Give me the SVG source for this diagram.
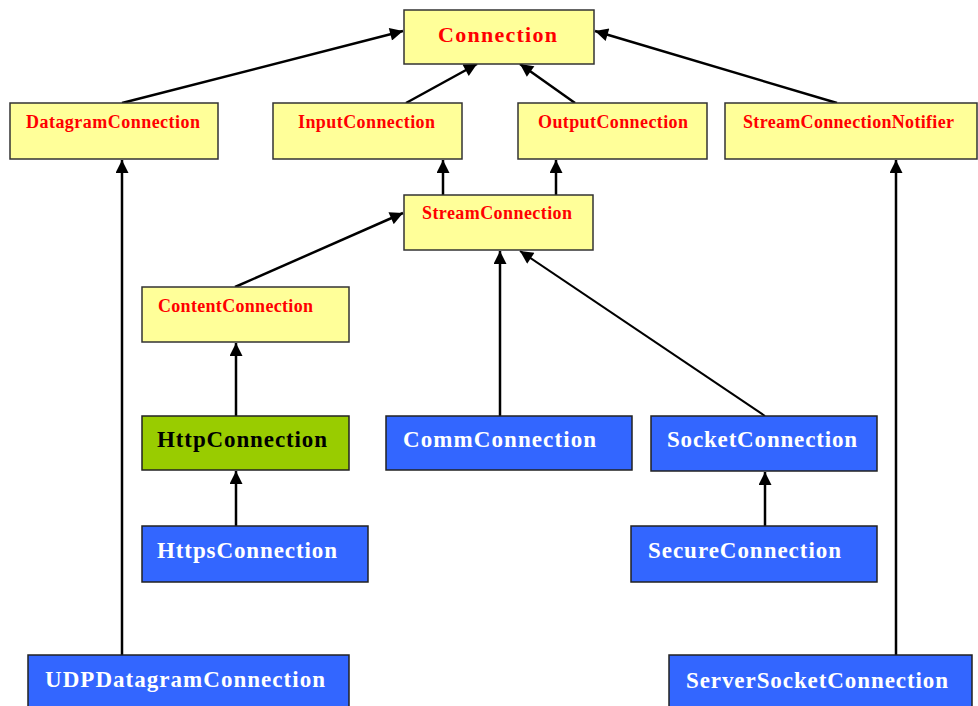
<svg xmlns="http://www.w3.org/2000/svg" width="978" height="706" viewBox="0 0 978 706">
<defs>
<marker id="ah" viewBox="0 0 10 10" refX="10" refY="5" markerWidth="14" markerHeight="13" markerUnits="userSpaceOnUse" orient="auto">
<path d="M0,0 L10,5 L0,10 z" fill="#000"/>
</marker>
</defs>
<style>
.y{fill:#FFFF99;stroke:#333;stroke-width:1.5}
.b{fill:#3366FF;stroke:#222;stroke-width:1.5}
.g{fill:#99CC00;stroke:#222;stroke-width:1.5}
.rt{font-family:"Liberation Serif",serif;font-weight:bold;font-size:18px;fill:#FF0000}
.wt{font-family:"Liberation Serif",serif;font-weight:bold;font-size:23px;fill:#FFFFFF}
.kt{font-family:"Liberation Serif",serif;font-weight:bold;font-size:23px;fill:#000}
.c{stroke:#000;stroke-width:2.5;fill:none;marker-end:url(#ah)}
</style>
<rect width="978" height="706" fill="#fff"/>
<g id="connectors">
<line class="c" x1="122" y1="103" x2="403" y2="31"/>
<line class="c" x1="406" y1="103" x2="477" y2="64"/>
<line class="c" x1="575" y1="103" x2="520" y2="64"/>
<line class="c" x1="837" y1="103" x2="595" y2="31"/>
<line class="c" x1="443" y1="195" x2="443" y2="160"/>
<line class="c" x1="556" y1="195" x2="556" y2="160"/>
<line class="c" x1="235" y1="287" x2="403" y2="213"/>
<line class="c" x1="236" y1="416" x2="236" y2="343"/>
<line class="c" x1="500" y1="416" x2="500" y2="251"/>
<line class="c" x1="765" y1="416" x2="520" y2="251" style="stroke-width:2"/>
<line class="c" x1="236" y1="526" x2="236" y2="471"/>
<line class="c" x1="765" y1="526" x2="765" y2="472"/>
<line class="c" x1="122" y1="655" x2="122" y2="160"/>
<line class="c" x1="896" y1="655" x2="896" y2="160"/>
</g>
<g id="Connection"><rect class="y" x="404" y="10" width="190" height="54"/><text class="rt" x="438" y="42" style="font-size:22px" textLength="119" lengthAdjust="spacing">Connection</text></g>
<g id="DatagramConnection"><rect class="y" x="10" y="103" width="208" height="56"/><text class="rt" x="26" y="128" textLength="174" lengthAdjust="spacing">DatagramConnection</text></g>
<g id="InputConnection"><rect class="y" x="273" y="103" width="189" height="56"/><text class="rt" x="298" y="128" textLength="137" lengthAdjust="spacing">InputConnection</text></g>
<g id="OutputConnection"><rect class="y" x="518" y="103" width="189" height="56"/><text class="rt" x="538" y="128" textLength="150" lengthAdjust="spacing">OutputConnection</text></g>
<g id="StreamConnectionNotifier"><rect class="y" x="725" y="103" width="252" height="56"/><text class="rt" x="743" y="128" textLength="211" lengthAdjust="spacing">StreamConnectionNotifier</text></g>
<g id="StreamConnection"><rect class="y" x="404" y="195" width="189" height="55"/><text class="rt" x="422" y="219" textLength="150" lengthAdjust="spacing">StreamConnection</text></g>
<g id="ContentConnection"><rect class="y" x="142" y="287" width="207" height="55"/><text class="rt" x="158" y="312" textLength="155" lengthAdjust="spacing">ContentConnection</text></g>
<g id="HttpConnection"><rect class="g" x="142" y="416" width="207" height="54"/><text class="kt" x="157" y="447" textLength="170" lengthAdjust="spacing">HttpConnection</text></g>
<g id="CommConnection"><rect class="b" x="386" y="416" width="246" height="54"/><text class="wt" x="403" y="447" textLength="193" lengthAdjust="spacing">CommConnection</text></g>
<g id="SocketConnection"><rect class="b" x="651" y="416" width="226" height="55"/><text class="wt" x="667" y="447" textLength="190" lengthAdjust="spacing">SocketConnection</text></g>
<g id="HttpsConnection"><rect class="b" x="142" y="526" width="226" height="56"/><text class="wt" x="157" y="558" textLength="180" lengthAdjust="spacing">HttpsConnection</text></g>
<g id="SecureConnection"><rect class="b" x="631" y="526" width="246" height="56"/><text class="wt" x="648" y="558" textLength="193" lengthAdjust="spacing">SecureConnection</text></g>
<g id="UDPDatagramConnection"><rect class="b" x="28" y="655" width="321" height="54"/><text class="wt" x="45" y="687" textLength="280" lengthAdjust="spacing">UDPDatagramConnection</text></g>
<g id="ServerSocketConnection"><rect class="b" x="669" y="655" width="303" height="54"/><text class="wt" x="686" y="688" textLength="262" lengthAdjust="spacing">ServerSocketConnection</text></g>
</svg>
